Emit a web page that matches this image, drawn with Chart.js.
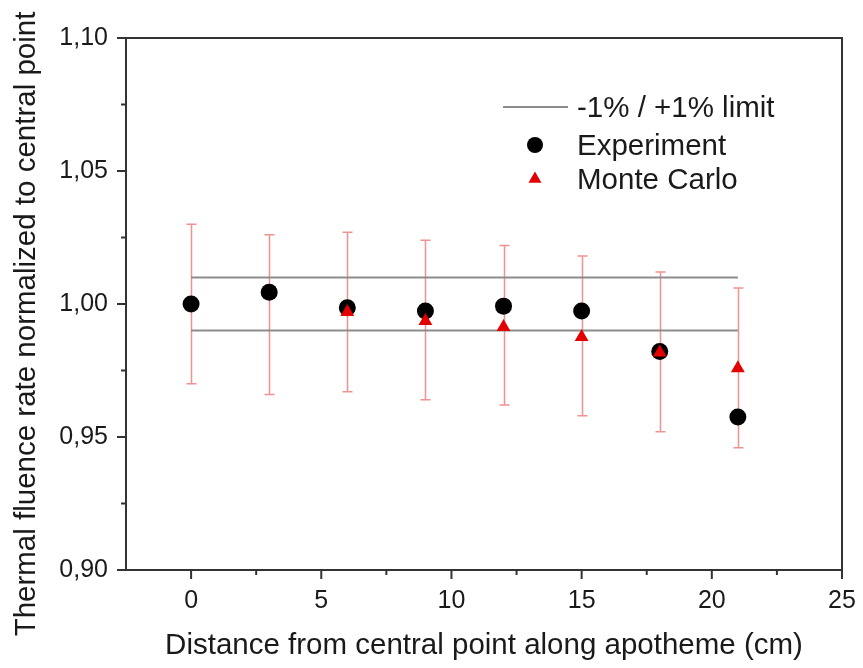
<!DOCTYPE html>
<html><head><meta charset="utf-8">
<script src="https://cdn.jsdelivr.net/npm/chart.js@4/dist/chart.umd.min.js"></script>
<style>html,body{margin:0;padding:0;background:#fff;}</style>
</head><body>
<canvas id="c" width="863" height="668"></canvas>
<script>
// ---- data ----
const distances   = [0, 3, 6, 9, 12, 15, 18, 21];
const experiment  = [1.0000, 1.0044, 0.9986, 0.9974, 0.9992, 0.9974, 0.9821, 0.9575];
const monteCarlo  = [null, null, 0.9970, 0.9936, 0.9914, 0.9876, 0.9818, 0.9758];
const mcErrLow    = [0.970, 0.966, 0.967, 0.964, 0.962, 0.958, 0.952, 0.946];
const mcErrHigh   = [1.030, 1.026, 1.027, 1.024, 1.022, 1.018, 1.012, 1.006];
const limitX      = [0, 21];
const upperLimit  = [1.01, 1.01];
const lowerLimit  = [0.99, 0.99];
const xTickValues = [0, 5, 10, 15, 20, 25];
const xMinorTicks = [2.5, 7.5, 12.5, 17.5, 22.5];
const yTickValues = [0.90, 0.95, 1.00, 1.05, 1.10];
const yMinorTicks = [0.925, 0.975, 1.025, 1.075];
const legendLabels = ['-1% / +1% limit', 'Experiment', 'Monte Carlo'];
const xTitle = 'Distance from central point along apotheme (cm)';
const yTitle = 'Thermal fluence rate normalized to central point';

const FONT = '"Liberation Sans", Arial, Helvetica, sans-serif';
const TEXT = '#1a1a1a';
const FRAME = '#333333';
const LIMIT = '#8c8c8c';
const ERR = 'rgba(232,110,110,0.75)';
const RED = '#e30000';

const pts = (ys) => distances.map((x, i) => ({x, y: ys[i]})).filter(p => p.y !== null);

const errorBars = {
  id: 'errorBars',
  beforeDatasetsDraw(chart) {
    const {ctx, scales: {x, y}} = chart;
    ctx.save();
    ctx.strokeStyle = ERR;
    ctx.lineWidth = 1.5;
    distances.forEach((d, i) => {
      const px = Math.round(x.getPixelForValue(d)) + 0.5;
      const y1 = y.getPixelForValue(mcErrHigh[i]);
      const y2 = y.getPixelForValue(mcErrLow[i]);
      ctx.beginPath();
      ctx.moveTo(px, y1); ctx.lineTo(px, y2);
      ctx.moveTo(px - 5, y1); ctx.lineTo(px + 5, y1);
      ctx.moveTo(px - 5, y2); ctx.lineTo(px + 5, y2);
      ctx.stroke();
    });
    ctx.restore();
  }
};

const decorations = {
  id: 'decorations',
  afterDraw(chart) {
    const {ctx, chartArea: ca, scales: {x, y}} = chart;
    ctx.save();
    // frame
    ctx.strokeStyle = FRAME;
    ctx.lineWidth = 2;
    ctx.strokeRect(ca.left, ca.top, ca.right - ca.left, ca.bottom - ca.top);
    // ticks
    const tick = (px1, py1, px2, py2) => { ctx.beginPath(); ctx.moveTo(px1, py1); ctx.lineTo(px2, py2); ctx.stroke(); };
    xTickValues.forEach(v => { const p = x.getPixelForValue(v); tick(p, ca.bottom, p, ca.bottom + 9); });
    xMinorTicks.forEach(v => { const p = x.getPixelForValue(v); tick(p, ca.bottom, p, ca.bottom + 5); });
    yTickValues.forEach(v => { const p = y.getPixelForValue(v); tick(ca.left - 9, p, ca.left, p); });
    yMinorTicks.forEach(v => { const p = y.getPixelForValue(v); tick(ca.left - 5, p, ca.left, p); });
    // y title
    ctx.fillStyle = TEXT;
    ctx.font = '29.5px ' + FONT;
    ctx.textAlign = 'center';
    ctx.textBaseline = 'middle';
    ctx.translate(27, 324);
    ctx.rotate(-Math.PI / 2);
    ctx.fillText(yTitle, 0, 0);
    ctx.restore();

    // legend
    ctx.save();
    const lx = ca.left + 409, tx = ca.left + 451;
    const ly = [ca.top + 69, ca.top + 107, ca.top + 141];
    ctx.strokeStyle = LIMIT; ctx.lineWidth = 2;
    tick(ca.left + 377, ly[0], ca.left + 442, ly[0]);
    ctx.fillStyle = '#000';
    ctx.beginPath(); ctx.arc(lx, ly[1], 8, 0, Math.PI * 2); ctx.fill();
    ctx.fillStyle = RED;
    ctx.beginPath();
    const r = 7.5;
    ctx.moveTo(lx, ly[2] - r);
    ctx.lineTo(lx + r * Math.sin(2 * Math.PI / 3), ly[2] + r / 2);
    ctx.lineTo(lx - r * Math.sin(2 * Math.PI / 3), ly[2] + r / 2);
    ctx.closePath(); ctx.fill();
    ctx.fillStyle = TEXT;
    ctx.font = '29.5px ' + FONT;
    ctx.textAlign = 'left';
    ctx.textBaseline = 'middle';
    legendLabels.forEach((t, i) => ctx.fillText(t, tx, ly[i] + 2));
    ctx.restore();
  }
};

new Chart(document.getElementById('c'), {
  type: 'scatter',
  data: {
    datasets: [
      { label: 'Monte Carlo', data: pts(monteCarlo), pointStyle: 'triangle', pointRadius: 8,
        backgroundColor: RED, borderColor: RED, borderWidth: 0, showLine: false, order: 0 },
      { label: 'Experiment', data: pts(experiment), pointStyle: 'circle', pointRadius: 8.5,
        backgroundColor: '#000', borderColor: '#000', borderWidth: 0, showLine: false, order: 1 },
      { label: '+1% limit', data: limitX.map((x, i) => ({x, y: upperLimit[i]})), showLine: true,
        pointRadius: 0, borderColor: LIMIT, borderWidth: 2, order: 2 },
      { label: '-1% limit', data: limitX.map((x, i) => ({x, y: lowerLimit[i]})), showLine: true,
        pointRadius: 0, borderColor: LIMIT, borderWidth: 2, order: 2 }
    ]
  },
  options: {
    responsive: false, animation: false, devicePixelRatio: 1,
    layout: { padding: { top: 38, right: 21, left: 0, bottom: 0 }, autoPadding: false },
    plugins: { legend: { display: false }, tooltip: { enabled: false } },
    scales: {
      x: {
        type: 'linear', min: -2.5, max: 25,
        afterBuildTicks: s => { s.ticks = xTickValues.map(v => ({value: v})); },
        afterFit: s => { s.height = 98; s.paddingLeft = 0; s.paddingRight = 0; },
        grid: { display: false, drawTicks: false },
        border: { display: false },
        ticks: { font: { size: 25, family: FONT }, color: TEXT, padding: 16, maxRotation: 0,
                 callback: v => String(v) },
        title: { display: true, text: xTitle, color: TEXT, font: { size: 29.5, family: FONT },
                 padding: { top: 0, bottom: 4 } }
      },
      y: {
        type: 'linear', min: 0.9, max: 1.1,
        afterBuildTicks: s => { s.ticks = yTickValues.map(v => ({value: v})); },
        afterFit: s => { s.width = 126; s.paddingTop = 0; s.paddingBottom = 0; },
        grid: { display: false, drawTicks: false },
        border: { display: false },
        ticks: { font: { size: 25, family: FONT }, color: TEXT, padding: 18,
                 callback: v => v.toFixed(2).replace('.', ',') }
      }
    }
  },
  plugins: [errorBars, decorations]
});
</script>
</body></html>
